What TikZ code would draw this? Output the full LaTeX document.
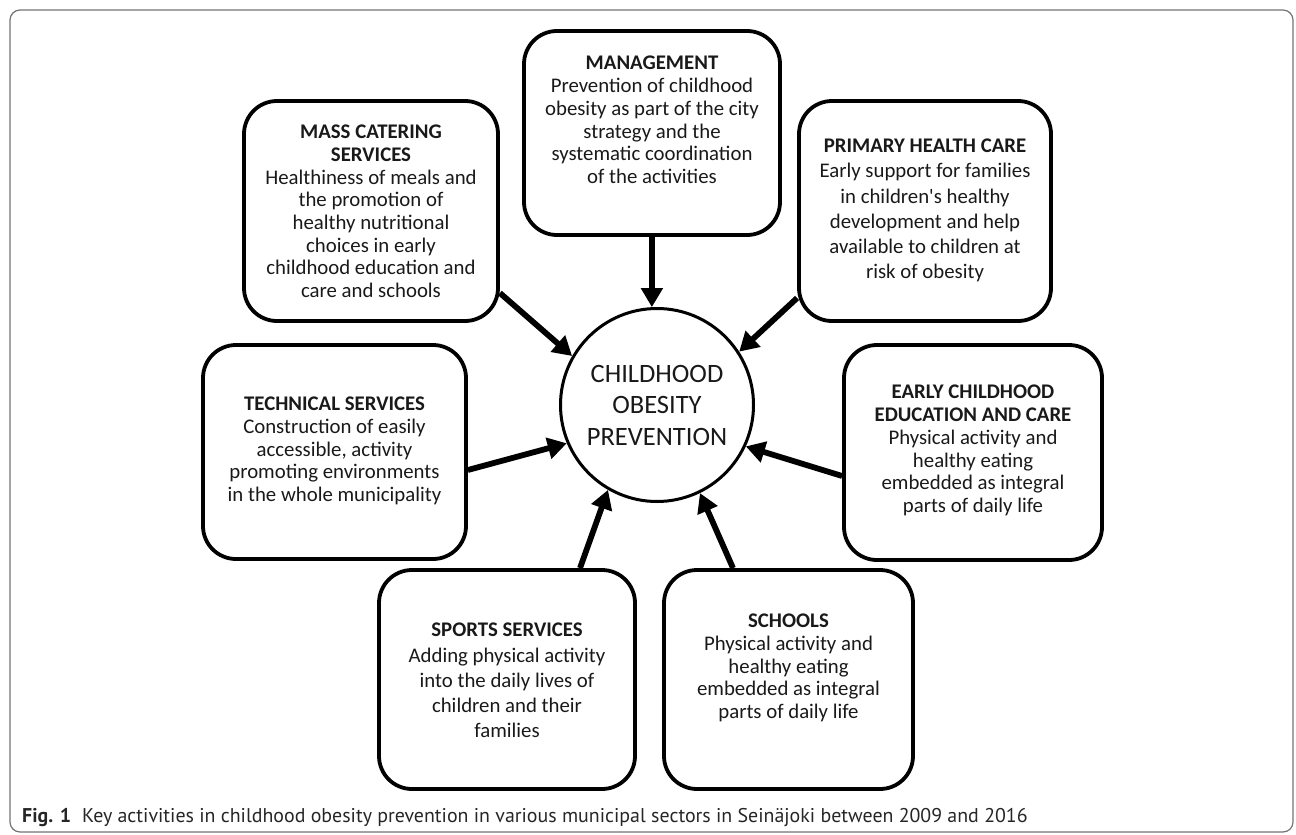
\documentclass[tikz,border=0pt]{standalone}
\usepackage{fontspec}
\setmainfont{Carlito}
\newfontfamily\capfont{PT Sans}
\usetikzlibrary{arrows.meta,calc}
\begin{document}
\begin{tikzpicture}[x=1pt,y=-1pt,
  box/.style={draw=black, line width=3.8pt, rounded corners=33pt, inner sep=0pt},
  txt/.style={align=center, inner sep=0pt, text=black!90, font=\fontsize{20.8}{22.7}\selectfont},
  txtwide/.style={align=center, inner sep=0pt, text=black!90, font=\fontsize{20.8}{25.2}\selectfont},
  arr/.style={line width=5.8pt, -{Triangle[length=19pt,width=21pt]}},
]
\useasboundingbox (0,0) rectangle (1296,835);
\draw[black!55, line width=1.2pt, rounded corners=10pt] (10,10) rectangle (1293,832);

% boxes
\node[box, minimum width=256pt, minimum height=204pt] (mgmt) at (652,133) {};
\node[box, minimum width=254pt, minimum height=220pt] (mass) at (371,211) {};
\node[box, minimum width=252pt, minimum height=220pt] (prim) at (925,211) {};
\node[box, minimum width=263pt, minimum height=214pt] (tech) at (334.5,452) {};
\node[box, minimum width=258pt, minimum height=215pt] (early) at (973,452.5) {};
\node[box, minimum width=256pt, minimum height=219pt] (sports) at (507,679.5) {};
\node[box, minimum width=249pt, minimum height=219pt] (schools) at (788.5,679.5) {};

% texts
\node[txt] (mgmtT) at (652,120) {\textbf{MANAGEMENT}\\Prevention of childhood\\obesity as part of the city\\strategy and the\\systematic coordination\\of the activities};
\node[txt] (massT) at (371,211.5) {\textbf{MASS CATERING}\\\textbf{SERVICES}\\Healthiness of meals and\\the promotion of\\healthy nutritional\\choices in early\\childhood education and\\care and schools};
\node[txtwide] (primT) at (925,210.5) {\textbf{PRIMARY HEALTH CARE}\\Early support for families\\in children\textquotesingle s healthy\\development and help\\available to children at\\risk of obesity};
\node[txt] (techT) at (334.5,451) {\textbf{TECHNICAL SERVICES}\\Construction of easily\\accessible, activity\\promoting environments\\in the whole municipality};
\node[txt] (earlyT) at (973,450.5) {\textbf{EARLY CHILDHOOD}\\\textbf{EDUCATION AND CARE}\\Physical activity and\\healthy eating\\embedded as integral\\parts of daily life};
\node[txtwide] (sportsT) at (507,680.5) {\textbf{SPORTS SERVICES}\\Adding physical activity\\into the daily lives of\\children and their\\families};
\node[txt] (schoolsT) at (788.5,668) {\textbf{SCHOOLS}\\Physical activity and\\healthy eating\\embedded as integral\\parts of daily life};

% centre
\node[circle, draw=black, line width=3pt, minimum size=193pt, inner sep=0pt, align=center,
      text=black!90, font=\fontsize{26.5}{31.5}\selectfont] (circ) at (657,405) {CHILDHOOD\\OBESITY\\PREVENTION};

% arrows
\draw[arr] (mgmt.south) -- (circ.93);
\draw[arr] ($(mass.east)+(0,82)$) -- (circ.150);
\draw[arr] ($(prim.west)+(0,87)$) -- (circ.33);
\draw[arr] ($(tech.east)+(0,18)$) -- (circ.203);
\draw[arr] ($(early.west)+(0,23.5)$) -- (circ.335);
\draw[arr] ($(sports.north)+(73,0)$) -- (circ.240);
\draw[arr] ($(schools.north)+(-55.5,0)$) -- (circ.296);

% caption
\node[anchor=base west, inner sep=0pt, font=\capfont\fontsize{19.9}{22}\selectfont, text=black!85] (cap) at (22,822)
  {\textbf{Fig. 1}\hspace{0.55em}Key activities in childhood obesity prevention in various municipal sectors in Seinäjoki between 2009 and 2016};
\end{tikzpicture}
\end{document}
